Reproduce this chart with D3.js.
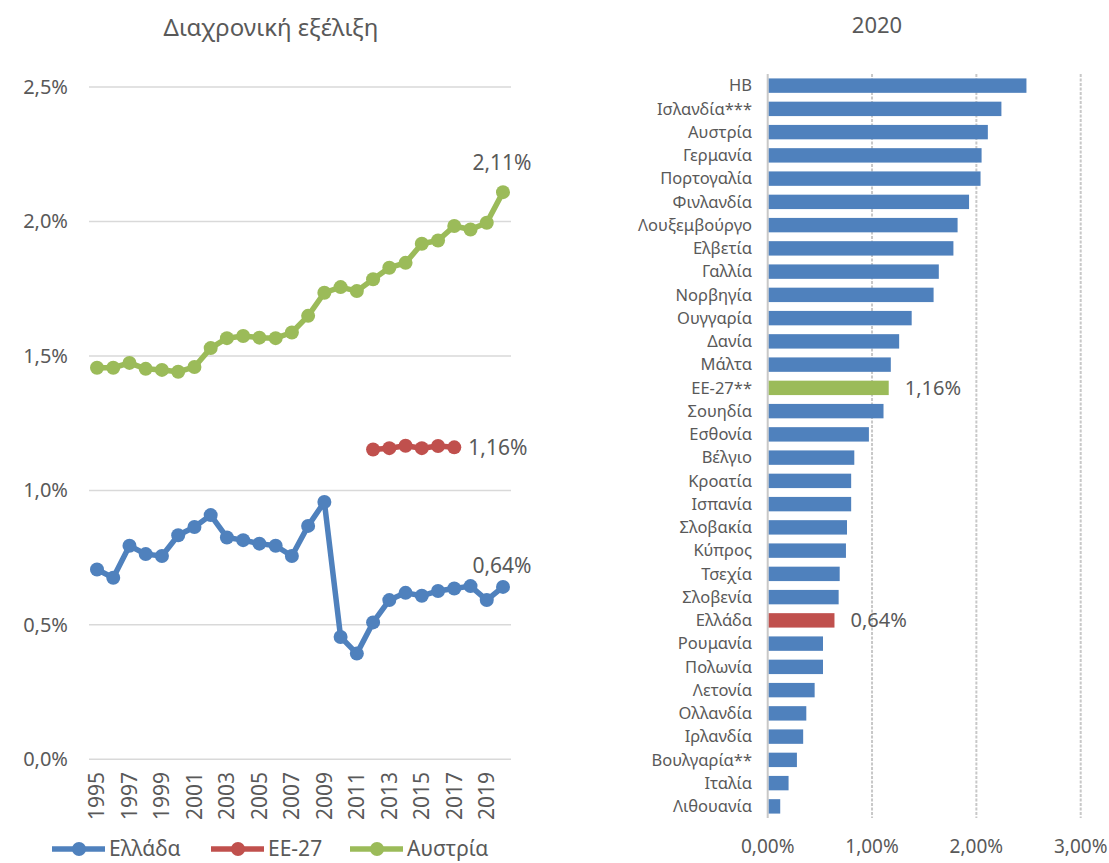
<!DOCTYPE html>
<html><head><meta charset="utf-8">
<script src="https://cdn.jsdelivr.net/npm/d3@7"></script>
<style>
html,body{margin:0;padding:0;background:#fff;}
svg{display:block;font-family:"Noto Sans","Open Sans",sans-serif;}
</style></head>
<body><svg id="c" width="1109" height="863"></svg>
<script>
// ---------- data ----------
const years = d3.range(1995, 2021);
const greece = [0.706,0.675,0.794,0.763,0.756,0.833,0.864,0.908,0.825,0.815,0.802,0.794,0.756,0.868,0.957,0.455,0.393,0.509,0.592,0.619,0.608,0.626,0.635,0.644,0.592,0.641];
const eu27Years = [2012,2013,2014,2015,2016,2017];
const eu27 = [1.152,1.157,1.166,1.157,1.165,1.16];
const austria = [1.456,1.456,1.474,1.452,1.448,1.441,1.459,1.529,1.566,1.574,1.568,1.566,1.587,1.649,1.735,1.756,1.741,1.785,1.828,1.846,1.917,1.929,1.983,1.970,1.995,2.109];
const yTicks = [0,0.5,1.0,1.5,2.0,2.5];
const xTickYears = d3.range(1995, 2020, 2);
const seriesNames = ["Ελλάδα","ΕΕ-27","Αυστρία"];
const colors = ["#4F81BD","#C0504D","#9BBB59"];

const countries = ["ΗΒ","Ισλανδία***","Αυστρία","Γερμανία","Πορτογαλία","Φινλανδία","Λουξεμβούργο","Ελβετία","Γαλλία","Νορβηγία","Ουγγαρία","Δανία","Μάλτα","ΕΕ-27**","Σουηδία","Εσθονία","Βέλγιο","Κροατία","Ισπανία","Σλοβακία","Κύπρος","Τσεχία","Σλοβενία","Ελλάδα","Ρουμανία","Πολωνία","Λετονία","Ολλανδία","Ιρλανδία","Βουλγαρία**","Ιταλία","Λιθουανία"];
const values2020 = [2.48,2.24,2.11,2.05,2.04,1.93,1.82,1.78,1.64,1.59,1.38,1.26,1.18,1.16,1.11,0.97,0.83,0.80,0.80,0.76,0.75,0.69,0.68,0.64,0.53,0.53,0.45,0.37,0.34,0.28,0.20,0.12];
const barTicks = [0,1,2,3];

const fmt = d3.formatLocale({decimal:",",thousands:".",grouping:[3],currency:["","€"]});
const f1 = v => fmt.format(".1f")(v) + "%";
const f2 = v => fmt.format(".2f")(v) + "%";

const svg = d3.select("#c");
const textCol = "#595959";
const gridCol = "#D9D9D9";

// ---------- left line chart ----------
const x = d3.scaleLinear().domain([1995,2020]).range([97,503]);
const y = d3.scaleLinear().domain([0,2.5]).range([759.3,87]);

svg.append("text").attr("x",271).attr("y",28).attr("dy","0.35em").attr("text-anchor","middle")
  .attr("font-size",24).attr("fill",textCol).text("Διαχρονική εξέλιξη");

const gy = svg.append("g");
yTicks.forEach(t=>{
  gy.append("line").attr("x1",89).attr("x2",511).attr("y1",y(t)).attr("y2",y(t))
    .attr("stroke",gridCol).attr("stroke-width",1.5);
  gy.append("text").attr("x",68).attr("y",y(t)).attr("dy","0.35em").attr("text-anchor","end")
    .attr("font-size",20).attr("fill",textCol).text(f1(t));
});
xTickYears.forEach(yr=>{
  svg.append("text").attr("transform",`translate(${x(yr)},772) rotate(-90)`)
    .attr("dy","0.35em").attr("text-anchor","end").attr("font-size",21).attr("fill",textCol).text(yr);
});

function drawSeries(xs, vs, col){
  const pts = xs.map((d,i)=>[x(d), y(vs[i])]);
  svg.append("path").attr("d", d3.line()(pts)).attr("fill","none").attr("stroke",col)
    .attr("stroke-width",5.5).attr("stroke-linejoin","round");
  svg.append("g").selectAll("circle").data(pts).join("circle")
    .attr("cx",d=>d[0]).attr("cy",d=>d[1]).attr("r",7).attr("fill",col);
}
drawSeries(years, greece, colors[0]);
drawSeries(eu27Years, eu27, colors[1]);
drawSeries(years, austria, colors[2]);

svg.append("text").attr("x",x(2020)-1).attr("y",y(austria[25])-29).attr("dy","0.35em").attr("text-anchor","middle")
  .attr("font-size",21).attr("fill",textCol).text(f2(austria[25]));
svg.append("text").attr("x",x(2017)+14).attr("y",y(eu27[5])).attr("dy","0.35em")
  .attr("font-size",21).attr("fill",textCol).text(f2(eu27[5]));
svg.append("text").attr("x",x(2020)-1).attr("y",y(greece[25])-21).attr("dy","0.35em").attr("text-anchor","middle")
  .attr("font-size",21).attr("fill",textCol).text(f2(greece[25]));

// legend
const legX = [52,211,350];
seriesNames.forEach((n,i)=>{
  const g = svg.append("g").attr("transform",`translate(${legX[i]},849)`);
  g.append("line").attr("x1",0).attr("x2",53).attr("stroke",colors[i]).attr("stroke-width",5.5);
  g.append("circle").attr("cx",27).attr("r",7).attr("fill",colors[i]);
  g.append("text").attr("x",57).attr("dy","0.35em").attr("font-size",21).attr("fill",textCol).text(n);
});

// ---------- right bar chart ----------
const bx = d3.scaleLinear().domain([0,3]).range([767.7,1080.7]);
const by = d3.scaleBand().domain(countries).range([74,818]).paddingInner(0.38).paddingOuter(0.19);

svg.append("text").attr("x",877).attr("y",25).attr("dy","0.35em").attr("text-anchor","middle")
  .attr("font-size",22).attr("fill",textCol).text("2020");

barTicks.forEach(t=>{
  svg.append("line").attr("x1",bx(t)).attr("x2",bx(t)).attr("y1",74).attr("y2",818)
    .attr("stroke","#C8C8C8").attr("stroke-width",2).attr("stroke-dasharray", t===0? null : "3,1.5");
  svg.append("text").attr("x",bx(t)).attr("y",846).attr("dy","0.35em").attr("text-anchor","middle")
    .attr("font-size",19).attr("fill",textCol).text(f2(t));
});

const barCol = c => c==="ΕΕ-27**" ? colors[2] : (c==="Ελλάδα" ? colors[1] : colors[0]);
svg.append("g").selectAll("rect").data(countries).join("rect")
  .attr("x",bx(0)+1).attr("y",d=>by(d)).attr("height",by.bandwidth())
  .attr("width",(d,i)=>bx(values2020[i])-bx(0)-1).attr("fill",barCol);

svg.append("g").selectAll("text").data(countries).join("text")
  .attr("x",752).attr("y",d=>by(d)+by.bandwidth()/2).attr("dy","0.35em").attr("text-anchor","end")
  .attr("font-size",16.5).attr("fill",textCol).text(d=>d);

["ΕΕ-27**","Ελλάδα"].forEach(c=>{
  const i = countries.indexOf(c);
  svg.append("text").attr("x",bx(values2020[i])+16).attr("y",by(c)+by.bandwidth()/2).attr("dy","0.35em")
    .attr("font-size",20).attr("fill",textCol).text(f2(values2020[i]));
});
</script></body></html>
